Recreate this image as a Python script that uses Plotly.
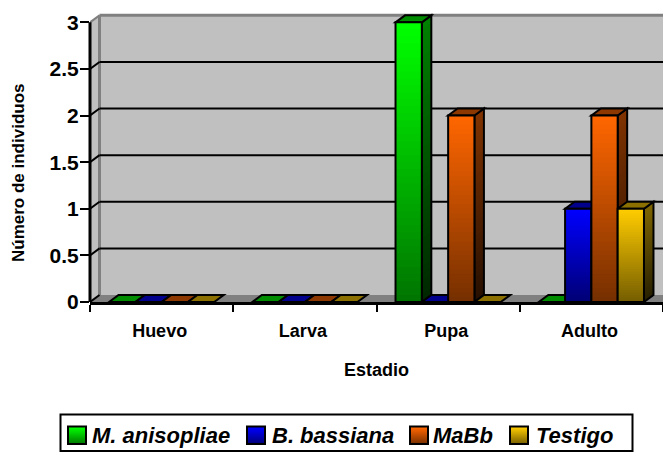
import plotly.graph_objects as go

categories = ["Huevo", "Larva", "Pupa", "Adulto"]
series_names = ["M. anisopliae", "B. bassiana", "MaBb", "Testigo"]
m_anisopliae = [0, 0, 3, 0]
b_bassiana = [0, 0, 0, 1]
mabb = [0, 0, 2, 2]
testigo = [0, 0, 0, 1]
y_ticks = [0, 0.5, 1, 1.5, 2, 2.5, 3]
y_labels = ["0", "0.5", "1", "1.5", "2", "2.5", "3"]
colors = [(0, 255, 0), (0, 0, 255), (255, 102, 0), (255, 204, 0)]
all_values = [m_anisopliae, b_bassiana, mabb, testigo]

W, H = 663, 456
L, R, T, B = 90, 0, 13, 154
plot_w, plot_h = W - L - R, H - T - B
YMAX = 3.1
px_x = plot_w / 4          # pixels per category
px_y = plot_h / YMAX       # pixels per y unit
DX, DY = 9.5 / px_x, 7 / px_y
BW = 26.3 / px_x
N = 40


def rgb(c, k):
    return "rgb(%d,%d,%d)" % tuple(round(v * k) for v in c)


def poly(pts):
    return "M" + " L".join(f"{x:.5f},{y:.5f}" for x, y in pts) + " Z"


XL, XR = -0.5, 3.5
shapes = []
# walls and floor
WALL, EDGE = "#C0C0C0", "#808080"
shapes.append(dict(type="path", layer="below", path=poly([(XL + DX, DY), (XR, DY), (XR, 3 + DY), (XL + DX, 3 + DY)]),
                   fillcolor=WALL, line=dict(width=0)))
shapes.append(dict(type="path", layer="below", path=poly([(XL, 0), (XL + DX, DY), (XL + DX, 3 + DY), (XL, 3)]),
                   fillcolor=WALL, line=dict(width=0)))
shapes.append(dict(type="path", layer="below", path=poly([(XL, 0), (XR, 0), (XR, DY), (XL + DX, DY)]),
                   fillcolor=EDGE, line=dict(width=0)))
shapes.append(dict(type="line", layer="below", x0=XL + DX, x1=XL + DX, y0=DY, y1=3 + DY, line=dict(color=EDGE, width=3)))
shapes.append(dict(type="line", layer="below", x0=XL, x1=XL + DX, y0=3, y1=3 + DY, line=dict(color=EDGE, width=2)))
shapes.append(dict(type="line", layer="below", x0=XL + DX, x1=XR, y0=3 + DY, y1=3 + DY, line=dict(color=EDGE, width=3)))
# gridlines on the back wall and the slanted tick stubs on the side wall
for t in y_ticks:
    if 0 < t < 3:
        shapes.append(dict(type="line", layer="below", x0=XL + DX, x1=XR, y0=t + DY, y1=t + DY,
                           line=dict(color="black", width=2)))
    if t < 3:
        shapes.append(dict(type="line", layer="below", x0=XL, x1=XL + DX, y0=t, y1=t + DY,
                           line=dict(color="black", width=2)))

traces = []
for s, (vals, col) in enumerate(zip(all_values, colors)):
    xs = [i + (s - 1.5) * BW for i in range(len(categories))]
    # side and top faces
    for x, v in zip(xs, vals):
        a, b = x - BW / 2, x + BW / 2
        if v > 0:
            for k in range(N, 0, -1):
                f = k / N
                shapes.append(dict(type="path", layer="below",
                                   path=poly([(b, 0), (b + DX, DY), (b + DX, v * f + DY), (b, v * f)]),
                                   fillcolor=rgb(col, 0.15 + 0.35 * f), line=dict(width=0)))
            shapes.append(dict(type="path", layer="below",
                               path=poly([(b, 0), (b + DX, DY), (b + DX, v + DY), (b, v)]),
                               line=dict(color="black", width=2)))
        shapes.append(dict(type="path", layer="below",
                           path=poly([(a, v), (a + DX, v + DY), (b + DX, v + DY), (b, v)]),
                           fillcolor=rgb(col, 0.55), line=dict(color="black", width=2)))
    # front faces: stacked layers give the vertical gradient
    for k in range(N, 0, -1):
        f = k / N
        traces.append(go.Bar(x=xs, y=[v * f for v in vals], width=BW, showlegend=False, hoverinfo="skip",
                             marker=dict(color=rgb(col, 0.45 + 0.55 * f), line=dict(width=0))))
    traces.append(go.Bar(x=xs, y=vals, width=BW, name=series_names[s], showlegend=False,
                         marker=dict(color="rgba(0,0,0,0)", line=dict(color="black", width=2))))

# y axis line
shapes.append(dict(type="line", layer="above", xref="paper", x0=0, x1=0, y0=0, y1=3, line=dict(color="black", width=3)))


# legend drawn in page pixels
def pxx(p):
    return (p - L) / plot_w


def pxy(p):
    return (H - B - p) / plot_h


shapes.append(dict(type="rect", xref="paper", yref="paper", x0=pxx(60.5), x1=pxx(632.5), y0=pxy(451), y1=pxy(414.5),
                   line=dict(color="black", width=2), fillcolor="white"))
swatch_x = [68, 247, 410, 510]
text_x = [90, 270, 431, 534]
annotations = []
for sx, tx, name, col in zip(swatch_x, text_x, series_names, colors):
    for k in range(17):
        f = 1 - k / 17
        shapes.append(dict(type="rect", xref="paper", yref="paper", x0=pxx(sx), x1=pxx(sx + 18),
                           y0=pxy(444), y1=pxy(444 - 17 * f), fillcolor=rgb(col, 0.45 + 0.55 * f), line=dict(width=0)))
    shapes.append(dict(type="rect", xref="paper", yref="paper", x0=pxx(sx), x1=pxx(sx + 18), y0=pxy(444), y1=pxy(426.5),
                       line=dict(color="black", width=2)))
    annotations.append(dict(text=f"<b><i>{name}</i></b>", x=pxx(tx), y=pxy(435), xref="paper", yref="paper",
                            xanchor="left", yanchor="middle", showarrow=False,
                            font=dict(family="Liberation Sans", size=22, color="black")))
annotations.append(dict(text="<b>Número de individuos</b>", x=pxx(18), y=pxy(173), xref="paper", yref="paper",
                        xanchor="center", yanchor="middle", textangle=-90, showarrow=False,
                        font=dict(family="Liberation Sans", size=17, color="black")))

fig = go.Figure(traces)
fig.update_layout(
    width=W, height=H, autosize=False, barmode="overlay", margin=dict(l=L, r=R, t=T, b=B),
    paper_bgcolor="white", plot_bgcolor="rgba(0,0,0,0)", showlegend=False, shapes=shapes, annotations=annotations,
    font=dict(family="Liberation Sans", color="black"),
    xaxis=dict(range=[XL, XR], tickmode="array", tickvals=list(range(len(categories))), ticktext=categories,
               ticks="", showgrid=False, zeroline=False, showline=True, linecolor="black", linewidth=3,
               tickfont=dict(family="Liberation Sans", size=18, weight="bold"), ticklabelstandoff=10, ticklabelshift=-2,
               minor=dict(tickmode="array", tickvals=[-0.5, 0.5, 1.5, 2.5, 3.5], ticks="outside", ticklen=7, tickwidth=2,
                          tickcolor="black", showgrid=False),
               title=dict(text="<b>Estadio</b>", standoff=24, font=dict(family="Liberation Sans", size=18))),
    yaxis=dict(range=[0, YMAX], tickmode="array", tickvals=y_ticks, ticktext=y_labels, ticks="outside", ticklen=9,
               tickwidth=2, tickcolor="black", showgrid=False, zeroline=False, showline=False, ticklabelstandoff=-3,
               tickfont=dict(family="Liberation Sans", size=21, weight="bold")),
)
fig.write_html("out.html", config=dict(displayModeBar=False),
               post_script="document.body.style.margin='0';document.documentElement.style.overflow='hidden';")
